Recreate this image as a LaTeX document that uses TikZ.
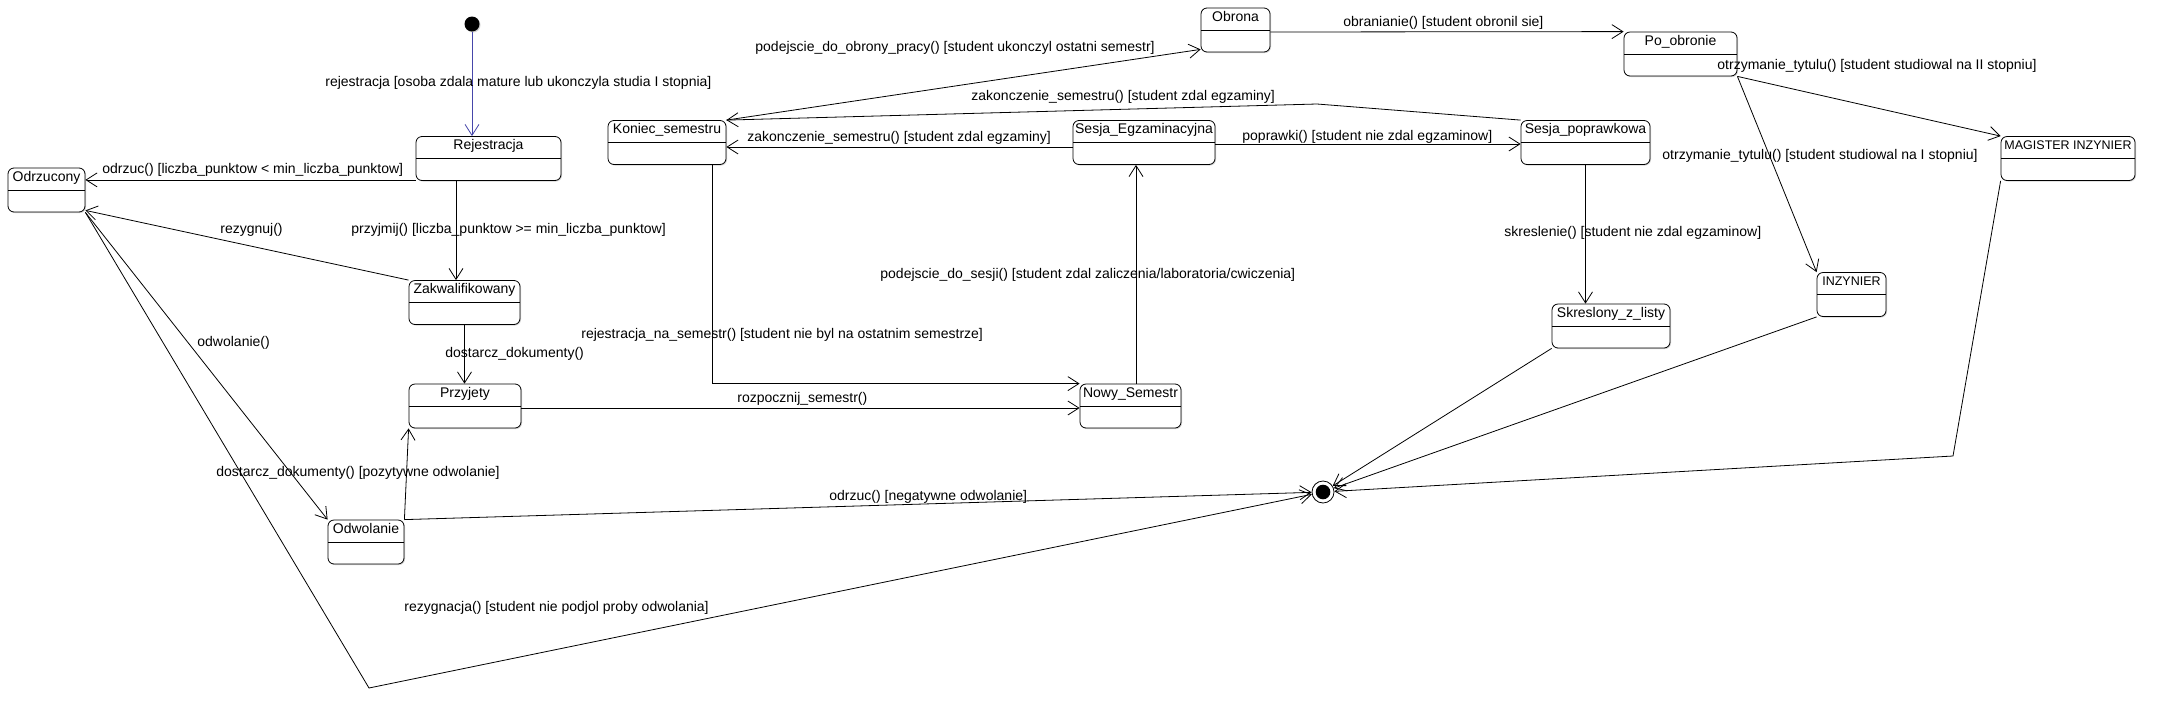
\documentclass[tikz,border=0pt]{standalone}
\usepackage{fontspec}
\setmainfont{Liberation Sans}
\usepackage{tikz}
\usetikzlibrary{arrows.meta,shadows}
\definecolor{initblue}{RGB}{70,70,170}

\begin{document}
\begin{tikzpicture}[x=1pt,y=-1pt,->,>={Straight Barb[length=11pt,width=14pt]},line width=0.8pt,every node/.style={font=\fontsize{14}{16}\selectfont}]
	\tikzstyle{state}=[draw,rounded corners=6pt,fill=white,drop shadow={shadow xshift=1pt,shadow yshift=-1pt,fill=black!35},minimum height=44pt,text height=10pt,text depth=28pt,inner ysep=3pt,inner xsep=2pt,path picture={\draw[-] ([yshift=-22pt]path picture bounding box.north west) -- ([yshift=-22pt]path picture bounding box.north east);}]
	\tikzstyle{initstate}=[circle,fill=black,minimum size=15pt,inner sep=0pt,drop shadow={shadow xshift=1pt,shadow yshift=-1pt,fill=black!35}]
	\tikzstyle{finalstate}=[circle,draw,fill=white,minimum size=22pt,inner sep=0pt,path picture={\fill[black] (path picture bounding box.center) circle (7.3pt);}]
	\tikzstyle{guard}=[anchor=west,inner sep=0pt]
	\tikzstyle{caps}=[font=\fontsize{12.5}{15}\selectfont]

	\path[use as bounding box,fill=white] (0,0) rectangle (2165,718);

	\node[initstate] (init) at (472,24) {};
	\node[finalstate] (fin) at (1323,492) {};
	\node[state,minimum width=145pt] (rej) at (488.5,158.5) {Rejestracja};
	\node[state,minimum width=77pt] (odr) at (46.5,190) {Odrzucony};
	\node[state,minimum width=111pt] (zak) at (464.5,302.5) {Zakwalifikowany};
	\node[state,minimum width=112pt] (prz) at (465,406) {Przyjety};
	\node[state,minimum width=76pt] (odw) at (366,542) {Odwolanie};
	\node[state,minimum width=118pt] (kon) at (667,142.5) {Koniec\_semestru};
	\node[state,minimum width=142pt] (sesE) at (1144,142.5) {Sesja\_Egzaminacyjna};
	\node[state,minimum width=129pt] (sesP) at (1585.5,142.5) {Sesja\_poprawkowa};
	\node[state,minimum width=69pt] (obr) at (1235.5,30) {Obrona};
	\node[state,minimum width=113pt] (poO) at (1680.5,54) {Po\_obronie};
	\node[state,minimum width=101pt] (nowy) at (1130.5,406) {Nowy\_Semestr};
	\node[state,minimum width=118pt] (skr) at (1611,326) {Skreslony\_z\_listy};
	\node[state,caps,minimum width=69pt] (inz) at (1851.5,294.5) {INZYNIER};
	\node[state,caps,minimum width=134pt] (mag) at (2068,158.5) {MAGISTER INZYNIER};

	\coordinate (bendA) at (369,688);
	\coordinate (bendB) at (1317,104);
	\coordinate (bendC) at (1953,456);

	\draw[initblue] (init) -- (init |- rej.north);
	\draw ([yshift=1pt]rej.south west) -- ([yshift=1pt]rej.south west -| odr.east);
	\draw ([xshift=-32.5pt]rej.south) -- ([xshift=-32.5pt]rej.south |- zak.north);
	\draw (zak.north west) -- ([yshift=2pt]odr.south east);
	\draw (zak.south) -- (zak.south |- prz.north);
	\draw (odr.south east) -- (odw.north west);
	\draw (odw.north east) -- (prz.south west);
	\draw (odw.north east) -- (fin);
	\draw (odr.south east) -- (bendA) -- (fin);
	\draw ([yshift=-2pt]prz.east) -- ([yshift=-2pt]prz.east -| nowy.west);
	\draw ([xshift=45pt]kon.south) |- (nowy.north west);
	\draw ([xshift=5.5pt]nowy.north) -- ([xshift=5.5pt]nowy.north |- sesE.south);
	\draw ([yshift=-4.5pt]sesE.west) -- ([yshift=-4.5pt]sesE.west -| kon.east);
	\draw ([yshift=-1.5pt]sesE.east) -- ([yshift=-1.5pt]sesE.east -| sesP.west);
	\draw (sesP.north west) -- (bendB) -- (kon.north east);
	\draw (kon.north east) -- ([yshift=3pt]obr.south west);
	\draw ([yshift=-2pt]obr.east) -- (poO.north west);
	\foreach \j in {mag,inz}
	\draw (poO.south east) -- (\j.north west);
	\draw (sesP.south) -- (sesP.south |- skr.north);
	\foreach \i in {skr,inz}
	\draw (\i.south west) -- (fin);
	\draw (mag.south west) -- (bendC) -- (fin);

	\node[guard] (tRej) at (325,83) {rejestracja [osoba zdala mature lub ukonczyla studia I stopnia]};
	\node[guard] (tOdr) at (102,170) {odrzuc() [liczba\_punktow < min\_liczba\_punktow]};
	\node[guard] (tRez) at (220,230) {rezygnuj()};
	\node[guard] (tPrzyj) at (351,230) {przyjmij() [liczba\_punktow >= min\_liczba\_punktow]};
	\node[guard] (tOdw) at (197,343) {odwolanie()};
	\node[guard] (tDost) at (445,354) {dostarcz\_dokumenty()};
	\node[guard] (tDostP) at (216,473) {dostarcz\_dokumenty() [pozytywne odwolanie]};
	\node[guard] (tRezN) at (404,608) {rezygnacja() [student nie podjol proby odwolania]};
	\node[guard] (tOdrN) at (829,497) {odrzuc() [negatywne odwolanie]};
	\node[guard] (tRozp) at (737,399) {rozpocznij\_semestr()};
	\node[guard] (tRejS) at (581,335) {rejestracja\_na\_semestr() [student nie byl na ostatnim semestrze]};
	\node[guard] (tSesja) at (880,275) {podejscie\_do\_sesji() [student zdal zaliczenia/laboratoria/cwiczenia]};
	\node[guard] (tZak1) at (747,138) {zakonczenie\_semestru() [student zdal egzaminy]};
	\node[guard] (tZak2) at (971,97) {zakonczenie\_semestru() [student zdal egzaminy]};
	\node[guard] (tObr) at (755,48) {podejscie\_do\_obrony\_pracy() [student ukonczyl ostatni semestr]};
	\node[guard] (tPopr) at (1242,137) {poprawki() [student nie zdal egzaminow]};
	\node[guard] (tObrS) at (1343,23) {obranianie() [student obronil sie]};
	\node[guard] (tTyt2) at (1717,66) {otrzymanie\_tytulu() [student studiowal na II stopniu]};
	\node[guard] (tTyt1) at (1662,156) {otrzymanie\_tytulu() [student studiowal na I stopniu]};
	\node[guard] (tSkr) at (1504,233) {skreslenie() [student nie zdal egzaminow]};
\end{tikzpicture}
\end{document}
